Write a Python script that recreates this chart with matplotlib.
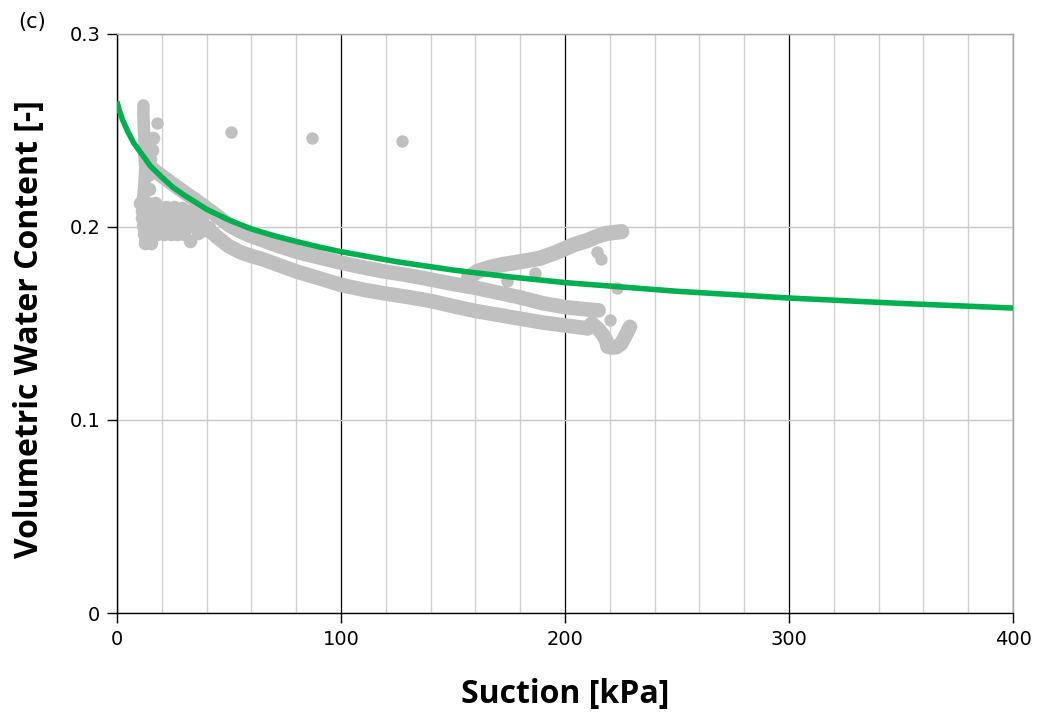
import matplotlib
matplotlib.use("Agg")
import matplotlib.pyplot as plt
from matplotlib.ticker import MultipleLocator

# fitted retention curve (green)
fit_x = [0, 1, 2.5, 5, 7.5, 10, 15, 20, 25, 30, 40, 50, 60, 70, 80, 90, 100,
         125, 150, 175, 200, 250, 300, 350, 400]
fit_y = [0.265, 0.2605, 0.2555, 0.2490, 0.2435, 0.2395, 0.2315, 0.2258, 0.2205,
         0.2165, 0.2092, 0.2036, 0.1990, 0.1955, 0.1925, 0.1897, 0.1872,
         0.1820, 0.1777, 0.1742, 0.1712, 0.1667, 0.1632, 0.1604, 0.1580]

# measured data (grey), one list per branch
col_x = [11.8, 11.8, 11.9, 12.0, 12.2, 12.3, 12.1, 12.4, 12.6, 12.5, 12.3, 12.0,
         11.6, 11.3, 11.6, 12.0, 12.3, 12.6, 12.9]
col_y = [0.263, 0.259, 0.255, 0.251, 0.247, 0.243, 0.239, 0.235, 0.231, 0.227,
         0.223, 0.219, 0.215, 0.211, 0.207, 0.203, 0.199, 0.195, 0.1915]

# the dense patch of points at low suction
blob_x = [12.5, 15.0,
          12.0, 15.0, 18.0, 21.0, 24.0, 27.0, 30.0, 32.6, 36.0, 39.0,
          11.5, 14.0, 17.0, 20.0, 23.0, 26.0, 29.0, 32.0, 35.0, 38.0, 41.0,
          11.0, 14.0, 17.0, 20.0, 23.0, 26.0, 29.0, 32.0, 35.0, 38.0,
          11.0, 14.0, 17.0, 20.0, 23.0, 26.0, 29.0, 32.0, 35.0,
          22.0, 25.5, 29.0,
          10.5, 14.0, 17.0,
          14.5, 14.0, 14.8, 15.5, 16.0]
blob_y = [0.1915, 0.1915,
          0.1965, 0.1965, 0.1965, 0.1965, 0.1965, 0.1965, 0.1965, 0.1925, 0.1970,
          0.1985,
          0.2005, 0.2005, 0.2005, 0.2005, 0.2005, 0.2005, 0.2005, 0.2005, 0.2005,
          0.2005, 0.2000,
          0.2045, 0.2045, 0.2045, 0.2045, 0.2045, 0.2045, 0.2045, 0.2045, 0.2045,
          0.2045,
          0.2085, 0.2085, 0.2085, 0.2085, 0.2085, 0.2085, 0.2085, 0.2085, 0.2080,
          0.2105, 0.2105, 0.2100,
          0.2125, 0.2125, 0.2125,
          0.2195, 0.2270, 0.2350, 0.2400, 0.2460]

upper_x = [14, 17, 20.5, 25, 30, 35, 40, 45, 50, 55, 60, 65, 70, 80, 90, 100, 110,
           120, 130, 140, 150, 160, 170, 180, 190, 200, 208, 215]
upper_y = [0.2320, 0.2290, 0.2260, 0.2222, 0.2180, 0.2140, 0.2098, 0.2055, 0.2010,
           0.1978, 0.1952, 0.1932, 0.1910, 0.1872, 0.1843, 0.1815, 0.1790, 0.1768,
           0.1750, 0.1728, 0.1705, 0.1685, 0.1660, 0.1635, 0.1605, 0.1585, 0.1575,
           0.1568]

lower_x = [30, 35, 40, 45, 50, 55, 60, 65, 70, 80, 90, 100, 110, 120, 130, 140,
           150, 160, 170, 180, 190, 200, 210]
lower_y = [0.2045, 0.2025, 0.1995, 0.1945, 0.1900, 0.1870, 0.1850, 0.1833, 0.1812,
           0.1770, 0.1735, 0.1700, 0.1675, 0.1655, 0.1637, 0.1617, 0.1590, 0.1565,
           0.1545, 0.1525, 0.1505, 0.1490, 0.1475]

end_x = [210, 212, 215, 217, 218.5, 219, 221, 223, 225, 226.5, 228, 229]
end_y = [0.1475, 0.1500, 0.1470, 0.1440, 0.1410, 0.1380, 0.1375, 0.1378, 0.1395,
         0.1425, 0.1460, 0.1483]

wet_x = [157, 161, 166.5, 172, 179, 188.8, 196, 203.7, 210, 214, 218.6, 225.3]
wet_y = [0.1740, 0.1770, 0.1791, 0.1805, 0.1818, 0.1838, 0.1868, 0.1907, 0.1930,
         0.1950, 0.1967, 0.1976]

extra_x = [17.8, 50.9, 87.2, 127.2, 223.2, 186.6, 174, 214.5, 216.0, 212, 220]
extra_y = [0.2537, 0.2494, 0.2460, 0.2446, 0.1685, 0.1760, 0.1720, 0.1870, 0.1835,
           0.1560, 0.1520]

GREY = "#c0c0c0"
GREEN = "#00b050"

fig = plt.figure(figsize=(10.37, 7.2), dpi=100)
ax = fig.add_axes([0.1128, 0.1486, 0.8641, 0.8042])

ax.set_xlim(0, 400)
ax.set_ylim(0, 0.3)
ax.xaxis.set_major_locator(MultipleLocator(100))
ax.xaxis.set_minor_locator(MultipleLocator(20))
ax.set_yticks([0, 0.1, 0.2, 0.3])
ax.set_yticklabels(["0", "0.1", "0.2", "0.3"])

ax.grid(which="minor", axis="x", color="#d0d0d0", lw=1.0, zorder=0)
ax.grid(which="major", axis="x", color="#000000", lw=0.9, zorder=0)
ax.grid(which="major", axis="y", color="#c8c8c8", lw=1.0, zorder=0)
ax.set_axisbelow(True)
ax.tick_params(which="minor", length=0)
ax.tick_params(which="major", direction="out", length=7, width=1, colors="#000000",
               labelsize=14, pad=5)
for lbl in ax.get_xticklabels() + ax.get_yticklabels():
    lbl.set_fontfamily("DejaVu Sans")

ax.spines["left"].set_color("#000000")
ax.spines["bottom"].set_color("#000000")
ax.spines["top"].set_color("#a6a6a6")
ax.spines["right"].set_color("#a6a6a6")
for sp in ax.spines.values():
    sp.set_linewidth(1.0)

# grey measurements: thick bands of overlapping dots
band = dict(color=GREY, solid_capstyle="round", solid_joinstyle="round", zorder=2)
ax.plot(col_x, col_y, lw=9.0, **band)
ax.plot(upper_x, upper_y, lw=10.5, **band)
ax.plot(lower_x, lower_y, lw=10.5, **band)
ax.plot(end_x, end_y, lw=10.5, **band)
ax.plot(wet_x, wet_y, lw=11.0, **band)
ax.scatter(blob_x, blob_y, s=95, color=GREY, lw=0, zorder=2)
ax.scatter(extra_x, extra_y, s=80, color=GREY, lw=0, zorder=2)

ax.plot(fit_x, fit_y, color=GREEN, lw=4.0, zorder=3, solid_capstyle="butt")

ax.set_xlabel("Suction [kPa]", fontfamily="Open Sans", fontweight="bold",
              fontsize=23)
ax.set_ylabel("Volumetric Water Content [-]", fontfamily="Open Sans",
              fontweight="bold", fontsize=23)
ax.xaxis.set_label_coords(0.5, -0.112)
ax.yaxis.set_label_coords(-0.079, 0.49)

fig.text(0.0174, 0.969, "(c)", fontfamily="DejaVu Sans", fontsize=15,
         va="center", ha="left")

fig.savefig("out.png", dpi=100)
